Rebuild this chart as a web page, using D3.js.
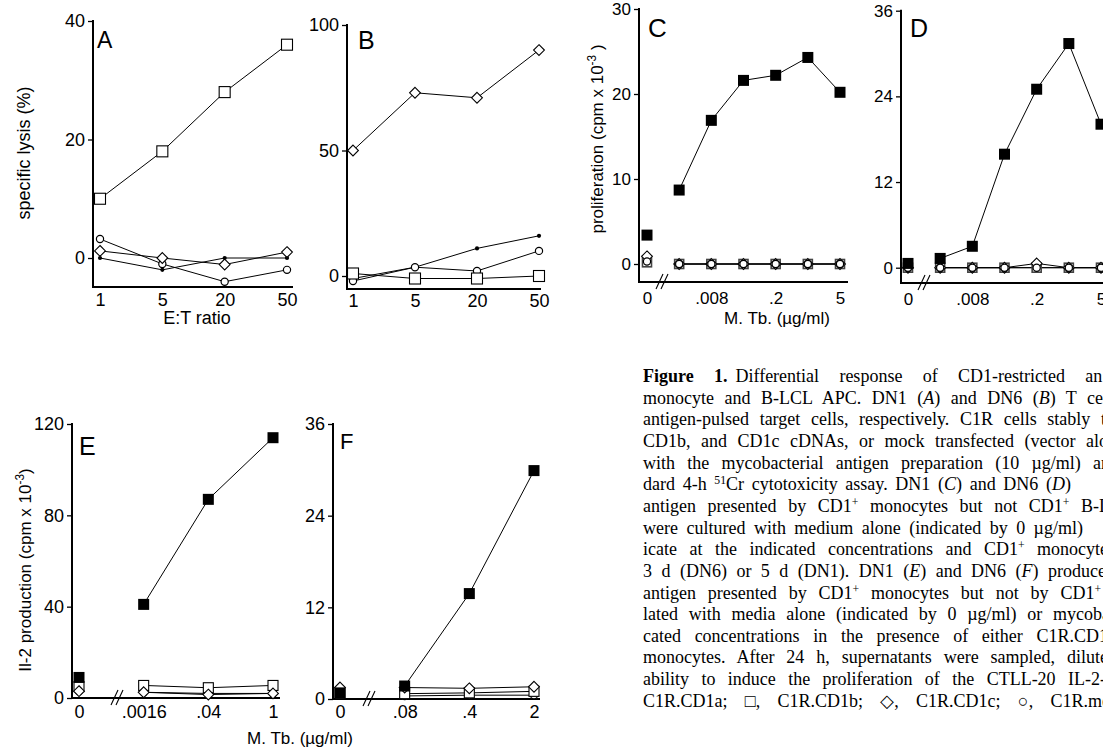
<!DOCTYPE html>
<html><head><meta charset="utf-8">
<script src="https://cdn.jsdelivr.net/npm/d3@7"></script>
<style>
body{margin:0;background:#fff}
svg{display:block;font-family:"Liberation Sans",Arial,sans-serif}
</style></head><body>
<svg id="fig" width="1103" height="750"></svg>
<script>
// x categories
var etRatio = ["1", "5", "20", "50"];
var doseCD = ["0", ".0016", ".008", ".04", ".2", "1", "5"];
var doseE = ["0", ".0016", ".04", "1"];
var doseF = ["0", ".08", ".4", "2"];
var labCD = ["0", ".008", ".2", "5"];

// A: DN1 specific lysis (%)
var aCD1a = [0, -2, 0, 0];
var aCD1b = [10, 18, 28, 36];
var aCD1c = [1.2, 0, -1.1, 1];
var aMock = [3.2, -1, -4, -2];
// B: DN6 specific lysis (%)
var bCD1a = [-1, 3.5, 11, 16];
var bCD1b = [1, -1, -1, 0];
var bCD1c = [50, 73, 71, 90];
var bMock = [-2, 3.5, 2, 10];
// C: DN1 proliferation
var cCD1a = [3.4, 8.7, 16.9, 21.6, 22.2, 24.3, 20.2];
var cCD1b = [0.2, 0, 0, 0, 0, 0, 0];
var cCD1c = [0.9, 0, 0, 0, 0, 0, 0];
var cMock = [0.3, 0, 0, 0, 0, 0, 0];
// D: DN6 proliferation
var dCD1a = [0.6, 1.3, 3, 15.9, 25, 31.4, 20.1];
var dCD1b = [0, 0, 0, 0, 0, 0, 0];
var dCD1c = [0, 0, 0, 0, 0.6, 0, 0];
var dMock = [0, 0, 0, 0, 0, 0, 0];
// E: DN1 IL-2
var eCD1a = [9, 41, 87, 114];
var eCD1b = [5, 5.5, 4.5, 5.5];
var eCD1c = [3, 2.5, 1.5, 2];
var eMock = [3, 2.5, 2, 2];
// F: DN6 IL-2
var fCD1a = [0.8, 1.7, 13.8, 29.9];
var fCD1b = [0.7, 0.7, 0.8, 1];
var fCD1c = [1.5, 1.5, 1.4, 1.6];
var fMock = [0.5, 0.4, 0.5, 0.5];

var svg = d3.select("#fig");
svg.append("rect").attr("width", 1103).attr("height", 750).attr("fill", "#fff");

var panels = [
  {L: "A", cats: etRatio, labs: etRatio, xr: [100, 287], yd: [0, 40], yr: [258, 21], ax: 93, xEnd: 293, axY: 287,
   ticks: [0, 20, 40], fs: 18, pad: 6, letter: [97, 48, 23], brk: null, skip0: false, sq: 11,
   series: [[aCD1a, "dot"], [aMock, "circ"], [aCD1c, "dia"], [aCD1b, "osq"]]},
  {L: "B", cats: etRatio, labs: etRatio, xr: [353, 539], yd: [0, 100], yr: [276, 25], ax: 347, xEnd: 541, axY: 289,
   ticks: [0, 50, 100], fs: 18, pad: 5, letter: [358, 49, 25], brk: null, skip0: false, sq: 11,
   series: [[bCD1a, "dot"], [bMock, "circ"], [bCD1b, "osq"], [bCD1c, "dia"]]},
  {L: "C", cats: doseCD, labs: labCD, xr: [647, 840], yd: [0, 30], yr: [264, 9], ax: 639, xEnd: 848, axY: 282,
   ticks: [0, 10, 20, 30], fs: 17, pad: 10, letter: [648, 37, 26], brk: 663, skip0: true, sq: 9,
   series: [[cCD1b, "gsq"], [cCD1c, "dia"], [cMock, "circ"], [cCD1a, "fsq"]]},
  {L: "D", cats: doseCD, labs: labCD, xr: [908, 1101], yd: [0, 36], yr: [267.7, 10.7], ax: 901, xEnd: 1103, axY: 283,
   ticks: [0, 12, 24, 36], fs: 17, pad: 10, letter: [910, 37, 25], brk: 925, skip0: true, sq: 9,
   series: [[dCD1b, "gsq"], [dCD1c, "dia"], [dMock, "circ"], [dCD1a, "fsq"]]},
  {L: "E", cats: doseE, labs: doseE, xr: [79, 273], yd: [0, 120], yr: [698, 424], ax: 72, xEnd: 280, axY: 698,
   ticks: [0, 40, 80, 120], fs: 18, pad: 7, letter: [79, 455, 25], brk: 118, skip0: true, sq: 10,
   series: [[eMock, "circ"], [eCD1b, "osq"], [eCD1c, "dia"], [eCD1a, "fsq"]]},
  {L: "F", cats: doseF, labs: doseF, xr: [340, 534], yd: [0, 36], yr: [699, 424], ax: 333, xEnd: 540, axY: 699,
   ticks: [0, 12, 24, 36], fs: 18, pad: 6, letter: [340, 449, 22], brk: 370, skip0: true, sq: 10,
   series: [[fMock, "circ"], [fCD1b, "osq"], [fCD1c, "dia"], [fCD1a, "fsq"]]}
];

function marker(g, kind, cx, cy, sq) {
  if (kind == "dot") {
    g.append("circle").attr("cx", cx).attr("cy", cy).attr("r", 2.1).attr("fill", "#000");
  } else if (kind == "circ") {
    g.append("circle").attr("cx", cx).attr("cy", cy).attr("r", 3.6)
      .attr("fill", "#fff").attr("stroke", "#000").attr("stroke-width", 1.2);
  } else if (kind == "dia") {
    var r = 5.4;
    g.append("path").attr("d", "M" + cx + "," + (cy - r) + "L" + (cx + r) + "," + cy + "L" + cx + "," + (cy + r) + "L" + (cx - r) + "," + cy + "Z")
      .attr("fill", "#fff").attr("stroke", "#000").attr("stroke-width", 1.1);
  } else if (kind == "osq" || kind == "gsq") {
    g.append("rect").attr("x", cx - sq / 2).attr("y", cy - sq / 2).attr("width", sq).attr("height", sq)
      .attr("fill", "#fff").attr("stroke", kind == "osq" ? "#000" : "#444").attr("stroke-width", kind == "osq" ? 1.1 : 1.6);
  } else if (kind == "fsq") {
    g.append("rect").attr("x", cx - 5.5).attr("y", cy - 5.5).attr("width", 11).attr("height", 11).attr("fill", "#000");
  }
}

panels.forEach(function(p) {
  var g = svg.append("g");
  var x = d3.scalePoint().domain(p.cats).range(p.xr);
  var y = d3.scaleLinear().domain(p.yd).range(p.yr);

  // axes
  var ya = g.append("g").attr("transform", "translate(" + p.ax + ",0)")
    .call(d3.axisLeft(y).tickValues(p.ticks).tickSize(5).tickPadding(3).tickSizeOuter(0));
  ya.select(".domain").remove();
  ya.selectAll("line").attr("stroke-width", 1.3);
  ya.selectAll("text").attr("font-size", p.fs).attr("fill", "#000");

  var xa = g.append("g").attr("transform", "translate(0," + p.axY + ")")
    .call(d3.axisBottom(x).tickValues(p.labs).tickSize(0).tickPadding(p.pad));
  xa.select(".domain").remove();
  xa.selectAll("text").attr("font-size", p.fs).attr("fill", "#000");

  g.append("line").attr("x1", p.ax).attr("x2", p.ax).attr("y1", y(p.yd[1]) - 1).attr("y2", p.axY + 1)
    .attr("stroke", "#000").attr("stroke-width", 2);
  g.append("line").attr("x1", p.ax).attr("x2", p.xEnd).attr("y1", p.axY).attr("y2", p.axY)
    .attr("stroke", "#000").attr("stroke-width", 2);

  if (p.brk) {
    [-3, 2].forEach(function(o) {
      g.append("line").attr("x1", p.brk + o - 4).attr("y1", p.axY + 7).attr("x2", p.brk + o + 3).attr("y2", p.axY - 8)
        .attr("stroke", "#000").attr("stroke-width", 1.1);
    });
  }

  // lines
  var line = d3.line().x(function(d) { return x(p.cats[d.i]); }).y(function(d) { return y(d.v); });
  p.series.forEach(function(s) {
    var pts = s[0].map(function(v, i) { return {i: i, v: v}; });
    if (p.skip0) pts = pts.slice(1);
    g.append("path").attr("d", line(pts)).attr("fill", "none").attr("stroke", "#000").attr("stroke-width", 1);
  });
  // markers
  p.series.forEach(function(s) {
    s[0].forEach(function(v, i) { marker(g, s[1], x(p.cats[i]), y(v), p.sq); });
  });

  g.append("text").attr("x", p.letter[0]).attr("y", p.letter[1]).attr("font-size", p.letter[2]).text(p.L);
});

// axis titles
function supLabel(tx, ty, rot, size, pre, sup, post) {
  var t = svg.append("text").attr("transform", "translate(" + tx + "," + ty + ")" + (rot ? " rotate(-90)" : ""))
    .attr("text-anchor", "middle").attr("font-size", size);
  t.append("tspan").text(pre);
  if (sup) {
    t.append("tspan").attr("baseline-shift", "super").attr("font-size", "0.7em").text(sup);
    t.append("tspan").text(post);
  }
  return t;
}
supLabel(30, 153, true, 18, "specific lysis (%)");
supLabel(603, 139, true, 17, "proliferation (cpm x 10", "-3", " )");
supLabel(31, 570, true, 17, "Il-2 production (cpm x 10", "-3", ")");
svg.append("text").attr("x", 197).attr("y", 324).attr("text-anchor", "middle").attr("font-size", 18).text("E:T ratio");
svg.append("text").attr("x", 777).attr("y", 324).attr("text-anchor", "middle").attr("font-size", 17).text("M. Tb. (\u00b5g/ml)");
svg.append("text").attr("x", 300).attr("y", 744).attr("text-anchor", "middle").attr("font-size", 17).text("M. Tb. (\u00b5g/ml)");

// caption
var capLines = [
  [["Figure 1.", "b"], ["Differential response of CD1-restricted an", "", 8]],
  [["monocyte and B-LCL APC. DN1 (", ""], ["A", "i"], [") and DN6 (", ""], ["B", "i"], [") T cel", ""]],
  [["antigen-pulsed target cells, respectively. C1R cells stably t", ""]],
  [["CD1b, and CD1c cDNAs, or mock transfected (vector alo", ""]],
  [["with the mycobacterial antigen preparation (10 \u00b5g/ml) an", ""]],
  [["dard 4-h ", ""], ["51", "sup"], ["Cr cytotoxicity assay. DN1 (", ""], ["C", "i"], [") and DN6 (", ""], ["D", "i"], [")", ""]],
  [["antigen presented by CD1", ""], ["+", "sup"], [" monocytes but not CD1", ""], ["+", "sup"], [" B-L", ""]],
  [["were cultured with medium alone (indicated by 0 \u00b5g/ml)", ""]],
  [["icate at the indicated concentrations and CD1", ""], ["+", "sup"], [" monocyte", ""]],
  [["3 d (DN6) or 5 d (DN1). DN1 (", ""], ["E", "i"], [") and DN6 (", ""], ["F", "i"], [") produce", ""]],
  [["antigen presented by CD1", ""], ["+", "sup"], [" monocytes but not by CD1", ""], ["+", "sup"]],
  [["lated with media alone (indicated by 0 \u00b5g/ml) or mycoba", ""]],
  [["cated concentrations in the presence of either C1R.CD1", ""]],
  [["monocytes. After 24 h, supernatants were sampled, dilute", ""]],
  [["ability to induce the proliferation of the CTLL-20 IL-2-", ""]],
  [["C1R.CD1a; \u25a1, C1R.CD1b; \u25c7, C1R.CD1c; \u25cb, C1R.me", ""]]
];
var capEnds = [1110, 1108, 1106, 1108, 1110, 1071, 1110, 1083, 1108, 1106, 1101, 1110, 1108, 1108, 1106, 1110];
var capX = 643, capY = 382, capLH = 21.65;
var cap = svg.append("g").attr("font-family", "'Liberation Serif','Times New Roman',serif").attr("font-size", 18);
capLines.forEach(function(segs, i) {
  var t = cap.append("text").attr("x", capX).attr("y", capY + i * capLH);
  var full = "";
  segs.forEach(function(s) {
    var ts = t.append("tspan").text(s[0]);
    if (s[1] == "b") ts.attr("font-weight", "bold");
    if (s[1] == "i") ts.attr("font-style", "italic");
    if (s[1] == "sup") ts.attr("baseline-shift", "super").attr("font-size", "0.65em");
    if (s[2]) { ts.attr("dx", s[2]); full += " "; }
    full += s[0];
  });
  var w = t.node().getComputedTextLength();
  var n = full.split(" ").length - 1;
  var ws = Math.max(-1.5, (capEnds[i] - capX - w) / Math.max(n, 1));
  t.style("word-spacing", ws + "px");
});
</script>
</body></html>
